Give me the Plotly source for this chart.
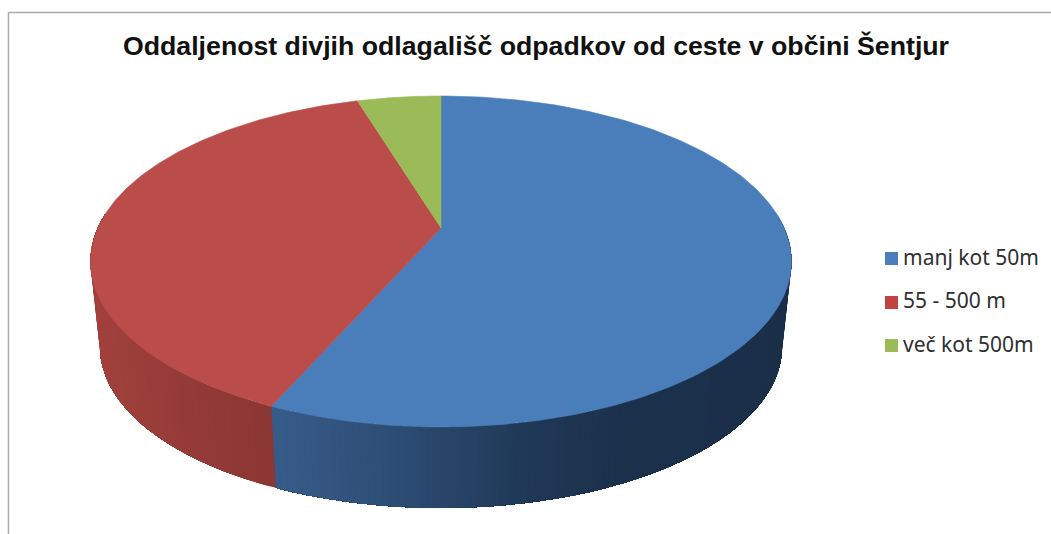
import numpy as np
import plotly.graph_objects as go

# Share of illegal dump sites by distance from the road (percent)
categories = ["manj kot 50m", "55 - 500 m", "več kot 500m"]
shares = [56.6, 38.7, 4.7]

title_text = "Oddaljenost divjih odlagališč odpadkov od ceste v občini Šentjur"

top_colors = ["#4A7EBB", "#BA4C49", "#9BBB59"]
swatch_colors = ["#4A7EBB", "#C0433F", "#9BBB59"]

# Side wall shading: (x pixel, colour) stops for each slice
side_stops = [
    ([277, 400, 520, 620, 800], [(56, 92, 138), (45, 77, 116), (33, 58, 89), (28, 49, 76), (27, 47, 73)]),
    ([90, 180, 277], [(163, 66, 62), (150, 60, 56), (139, 55, 51)]),
    ([0, 1051], [(118, 146, 62), (118, 146, 62)]),
]

# Projection of the tilted disc onto the page
CX = 441
TILT = 0.2024
TOP_DISC = dict(cy=228, rx=343.2, ry=158.7)
BOTTOM_DISC = dict(cy=314.4, rx=333.9, ry=154.4)
FRONT_ARC = (85, 275)
ARC_STEP = 1.0


def project(theta_deg, disc):
    """Angle clockwise from the far point of the disc to page coordinates."""
    t = np.radians(theta_deg)
    depth = 1 + TILT * np.cos(t)
    return CX + disc["rx"] * np.sin(t) / depth, disc["cy"] - disc["ry"] * np.cos(t) / depth


edges = np.concatenate([[0], np.cumsum(shares)]) * 360 / sum(shares)

fig = go.Figure()

# Side wall: each polygon runs to the end of its slice and the next one paints
# over it, so the shading changes along the rim without seams between bands
for i, (start, end) in enumerate(zip(edges[:-1], edges[1:])):
    lo, hi = max(start, FRONT_ARC[0]), min(end, FRONT_ARC[1])
    if lo >= hi:
        continue
    stops_x, stops_rgb = side_stops[i]
    for a in np.arange(lo, hi, ARC_STEP):
        arc = np.append(np.arange(a, hi, ARC_STEP), hi)
        xt, yt = project(arc, TOP_DISC)
        xb, yb = project(arc[::-1], BOTTOM_DISC)
        mid_x = (xt[0] + xb[-1]) / 2
        rgb = [int(np.interp(mid_x, stops_x, [c[k] for c in stops_rgb])) for k in range(3)]
        color = f"rgb({rgb[0]},{rgb[1]},{rgb[2]})"
        fig.add_trace(go.Scatter(
            x=np.concatenate([xt, xb, xt[:1]]), y=np.concatenate([yt, yb, yt[:1]]),
            mode="none", fill="toself", fillcolor=color,
            hoverinfo="skip", showlegend=False,
        ))

# Top face of each slice
for i, (start, end) in enumerate(zip(edges[:-1], edges[1:])):
    arc = np.linspace(start, end, 240)
    xr, yr = project(arc, TOP_DISC)
    ax, ay = project(90, dict(TOP_DISC, ry=0, rx=0))
    fig.add_trace(go.Scatter(
        x=np.concatenate([[ax], xr, [ax]]), y=np.concatenate([[ay], yr, [ay]]),
        mode="lines", fill="toself", fillcolor=top_colors[i],
        line=dict(color=top_colors[i], width=0.6), name=categories[i],
        text=[f"{categories[i]}: {shares[i]} %"] * 242, hoverinfo="text", showlegend=False,
    ))

# Key on the right: swatch and label for each slice
swatch_x = 891.5
label_x = 903
key_y = [258.5, 302.5, 345.5]
label_y = [260, 303, 347]
for name, color, ys, yl in zip(categories, swatch_colors, key_y, label_y):
    fig.add_trace(go.Scatter(
        x=[swatch_x], y=[ys], mode="markers",
        marker=dict(symbol="square", size=13, color=color),
        hoverinfo="skip", showlegend=False,
    ))
    fig.add_trace(go.Scatter(
        x=[label_x], y=[yl], mode="text", text=[name], textposition="middle right",
        textfont=dict(family="Noto Sans", size=21, color="#2F2F2F"),
        hoverinfo="skip", showlegend=False,
    ))

fig.update_layout(
    width=1051, height=534, margin=dict(l=0, r=0, t=0, b=0),
    paper_bgcolor="white", plot_bgcolor="white", showlegend=False,
    xaxis=dict(range=[0, 1051], visible=False, fixedrange=True),
    yaxis=dict(range=[534, 0], visible=False, fixedrange=True),
    title=dict(
        text=f"<b>{title_text}</b>", x=536 / 1051, xanchor="center",
        y=1 - 46 / 534, yanchor="middle", pad=dict(t=0, b=0),
        font=dict(family="Liberation Sans", size=26.7, color="#111111"),
    ),
    shapes=[
        dict(type="line", x0=8.5, x1=8.5, y0=12.5, y1=534, line=dict(color="#ABABAB", width=1.5)),
        dict(type="line", x0=8.5, x1=1051, y0=12.5, y1=12.5, line=dict(color="#ABABAB", width=1.5)),
    ],
)

fig.write_html("out.html", config=dict(displayModeBar=False))
